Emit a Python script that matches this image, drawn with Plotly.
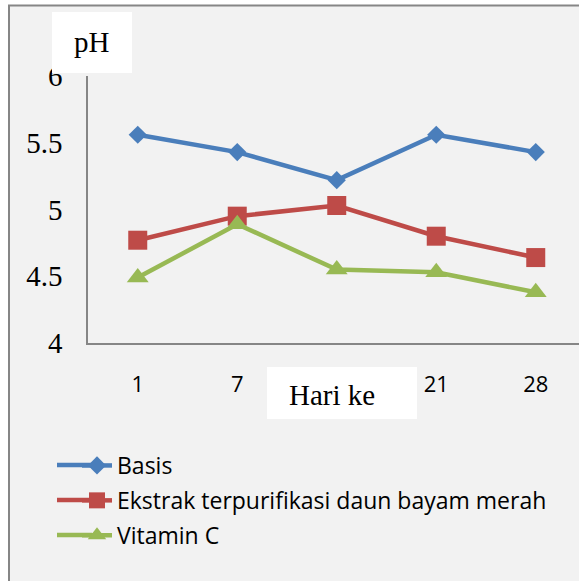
import plotly.graph_objects as go

days = ["1", "7", "14", "21", "28"]
basis = [5.56, 5.43, 5.22, 5.56, 5.43]
ekstrak = [4.77, 4.95, 5.03, 4.80, 4.64]
vitamin_c = [4.49, 4.89, 4.55, 4.53, 4.38]
y_ticks = [4, 4.5, 5, 5.5, 6]
y_tick_labels = ["4", "4.5", "5", "5.5", "6"]
x_tick_labels = ["1", "7", "21", "28"]  # "14" is covered by the axis title box in the original

W, H = 579, 581
L, T, B = 88, 76, 238
PW = W - L
PH = H - T - B


def px(x):
    return (x - L) / PW


def py(y):
    return (H - B - y) / PH


fig = go.Figure()
series = [
    ("Basis", basis, "#4A7EBB", "diamond", 14),
    ("Ekstrak terpurifikasi daun bayam merah", ekstrak, "#BE4B48", "square", 19),
    ("Vitamin C", vitamin_c, "#98B954", "triangle-up", 19),
]
legend_y = [465, 500, 535]
shapes = [
    dict(type="rect", xref="paper", yref="paper", x0=px(9), x1=px(W + 20), y0=py(H + 20), y1=py(5.5),
         fillcolor="#F2F2F2", line=dict(color="#868686", width=2), layer="below"),
    dict(type="rect", xref="paper", yref="paper", x0=px(52), x1=px(132), y0=py(73), y1=py(12),
         fillcolor="white", line=dict(width=0), layer="above"),
    dict(type="rect", xref="paper", yref="paper", x0=px(267), x1=px(417), y0=py(419), y1=py(367),
         fillcolor="white", line=dict(width=0), layer="above"),
]
for (name, vals, col, sym, size), ly in zip(series, legend_y):
    fig.add_trace(go.Scatter(
        x=days, y=vals, name=name, mode="lines+markers",
        line=dict(color=col, width=4.5),
        marker=dict(symbol=sym, size=size, color=col, line=dict(width=0)),
        legendgroup=name,
    ))
    shapes.append(dict(type="line", xref="paper", yref="paper", x0=px(57), x1=px(92), y0=py(ly), y1=py(ly),
                       line=dict(color=col, width=4.5), layer="above"))

fig.update_layout(
    width=W, height=H,
    margin=dict(l=L, r=0, t=T, b=B, pad=0),
    paper_bgcolor="white",
    plot_bgcolor="#F2F2F2",
    showlegend=True,
    legend=dict(
        x=px(77), y=py(444), xanchor="left", yanchor="top",
        bgcolor="rgba(0,0,0,0)", font=dict(family="Open Sans", size=23, color="black"),
        tracegroupgap=2,
    ),
    xaxis=dict(
        type="category", range=[-0.5, (W - L) / 99.5 - 0.5],
        tickvals=x_tick_labels, ticktext=x_tick_labels,
        showline=True, linecolor="#868686", linewidth=1.5, showgrid=False, zeroline=False,
        ticks="", ticklabelstandoff=21,
        tickfont=dict(family="Open Sans", size=22, color="black"),
    ),
    yaxis=dict(
        range=[4, 6], tickvals=y_ticks, ticktext=y_tick_labels,
        showline=True, linecolor="#868686", linewidth=1.5, showgrid=False, zeroline=False,
        ticks="", ticklabelstandoff=18,
        tickfont=dict(family="Liberation Serif", size=29, color="black"),
    ),
    shapes=shapes,
    annotations=[
        dict(text="pH", xref="paper", yref="paper", x=px(91.5), y=py(42), showarrow=False,
             xanchor="center", yanchor="middle", font=dict(family="Liberation Serif", size=29, color="black")),
        dict(text="Hari ke", xref="paper", yref="paper", x=px(331.5), y=py(395), showarrow=False,
             xanchor="center", yanchor="middle", font=dict(family="Liberation Serif", size=29, color="black")),
    ],
)

fig.write_html("out.html", config={"displayModeBar": False},
               post_script="document.body.style.margin='0';")
